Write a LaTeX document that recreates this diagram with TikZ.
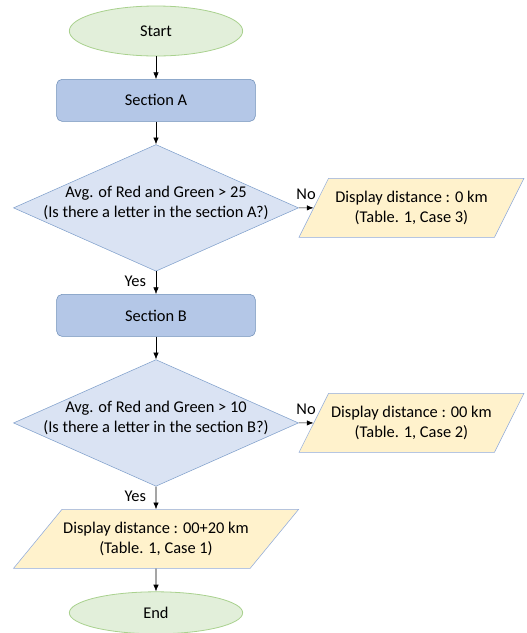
\documentclass[tikz,border=0pt]{standalone}
\usepackage{fontspec}
\setmainfont{Carlito}
\usetikzlibrary{shapes.geometric, arrows.meta, positioning}
\usepackage{xcolor}
\definecolor{termfill}{HTML}{E2EFDA}
\definecolor{termline}{HTML}{A9D18E}
\definecolor{procfill}{HTML}{B4C7E7}
\definecolor{procline}{HTML}{6F8FB8}
\definecolor{decfill}{HTML}{DAE3F3}
\definecolor{decline}{HTML}{7F9FCB}
\definecolor{iofill}{HTML}{FFF2CC}
\definecolor{ioline}{HTML}{8FAADC}

\begin{document}
\begin{tikzpicture}[
    node distance=17pt and 11pt,
    font=\fontsize{12.3}{15}\selectfont,
    term/.style={ellipse, draw=termline, semithick, fill=termfill, minimum width=130pt, minimum height=37.5pt},
    proc/.style={rectangle, rounded corners=4pt, draw=procline, fill=procfill, minimum width=149pt, minimum height=31.5pt},
    dec/.style={diamond, draw=decline, fill=decfill, minimum width=213.75pt, minimum height=95pt, inner sep=0pt},
    io/.style={trapezium, trapezium stretches body=true, draw=ioline, fill=iofill, inner xsep=1pt, inner ysep=9.5pt, align=center},
    arr/.style={-{Latex[length=5pt,width=4pt]}}
]
\useasboundingbox (0,0) rectangle (394.5pt,-474.75pt);

% main column
\node[term] (start) at (117pt,-23.25pt) {Start};
\node[proc, below=of start] (secA) {Section A};
\node[dec, below=of secA, label={[align=center, yshift=4pt]center:Avg. of Red and Green > 25\\(Is there a letter in the section A?)}] (decA) {};
\node[proc, below=of decA] (secB) {Section B};
\node[dec, below=of secB, label={[align=center, yshift=4pt]center:Avg. of Red and Green > 10\\(Is there a letter in the section B?)}] (decB) {};
\node[io, below=of decB, trapezium left angle=50.6, trapezium right angle=129.4, minimum width=193.5pt] (outC) {Display distance : 00+20 km\\(Table. 1, Case 1)};
\node[term, below=of outC, minimum height=31.5pt] (end) {End};

% outputs for "No"
\node[io, right=of decA, trapezium left angle=63.4, trapezium right angle=116.6, minimum width=168.75pt] (outA) {Display distance : 0 km\\(Table. 1, Case 3)};
\node[io, right=of decB, trapezium left angle=63.4, trapezium right angle=116.6, minimum width=168.75pt] (outB) {Display distance : 00 km\\(Table. 1, Case 2)};

\draw[arr] (start) -- (secA);
\draw[arr] (secA) -- (decA);
\draw[arr] (decA) -- node[above=3pt] {No} (outA);
\draw[arr] (decA) -- node[left=4pt, pos=0.45] {Yes} (secB);
\draw[arr] (secB) -- (decB);
\draw[arr] (decB) -- node[above=3pt] {No} (outB);
\draw[arr] (decB) -- node[left=4pt, pos=0.45] {Yes} (outC);
\draw[arr] (outC) -- (end);

\end{tikzpicture}
\end{document}
